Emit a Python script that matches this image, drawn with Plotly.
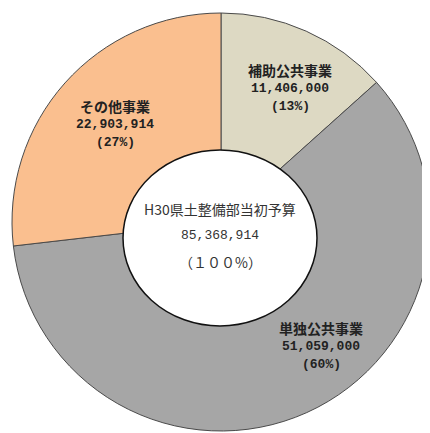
import plotly.graph_objects as go

labels = ["補助公共事業", "単独公共事業", "その他事業"]
values = [11406000, 51059000, 22903914]
colors = ["#DDD9C3", "#A6A6A6", "#FABF8F"]
total_title = "H30県土整備部当初予算"
total_value = 85368914
total_pct = "（１００%）"

OFF = 8  # page body margin
W, H = 422, 425
total = sum(values)


def fx(sx):
    return (sx - OFF) / W


def fy(sy):
    return (H - (sy - OFF)) / H


fig = go.Figure()
fig.add_trace(go.Pie(
    labels=labels, values=values, sort=False, direction="clockwise", rotation=0,
    marker=dict(colors=colors, line=dict(color="#4a4a4a", width=1)),
    textinfo="none", hoverinfo="label+value+percent", showlegend=False,
    domain=dict(x=[fx(12), fx(430)], y=[fy(431), fy(13)]),
))

# hole (slightly offset like the original)
fig.add_shape(type="circle", xref="paper", yref="paper",
              x0=fx(123), x1=fx(317), y0=fy(326), y1=fy(150),
              fillcolor="white", line=dict(color="#111111", width=1.5), layer="above")

label_pos = [(290, 70), (321, 328), (115, 106)]
lh = 18
for lab, v, (px, py) in zip(labels, values, label_pos):
    pct = round(v / total * 100)
    lines = [(lab, "Noto Sans CJK JP", 14), (f"{v:,}", "Liberation Mono", 13), (f"({pct}%)", "Liberation Mono", 13)]
    for i, (t, fam, sz) in enumerate(lines):
        fig.add_annotation(x=fx(px), y=fy(py + i * lh), xref="paper", yref="paper",
                           xanchor="center", yanchor="middle",
                           text=f"<b>{t}</b>", showarrow=False,
                           font=dict(family=fam, size=sz, color="#222222"))

center_lines = [(total_title, 209, "Noto Sans CJK JP", 14),
                (f"{total_value:,}", 235, "Liberation Mono", 13),
                (total_pct, 262, "Noto Sans CJK JP", 14)]
for t, py, fam, sz in center_lines:
    fig.add_annotation(x=fx(220), y=fy(py), xref="paper", yref="paper",
                       xanchor="center", yanchor="middle",
                       text=t, showarrow=False,
                       font=dict(family=fam, size=sz, color="#333333"))

fig.update_layout(width=W, height=H, margin=dict(l=0, r=0, t=0, b=0),
                  paper_bgcolor="white", plot_bgcolor="white")
fig.write_html("out.html")
